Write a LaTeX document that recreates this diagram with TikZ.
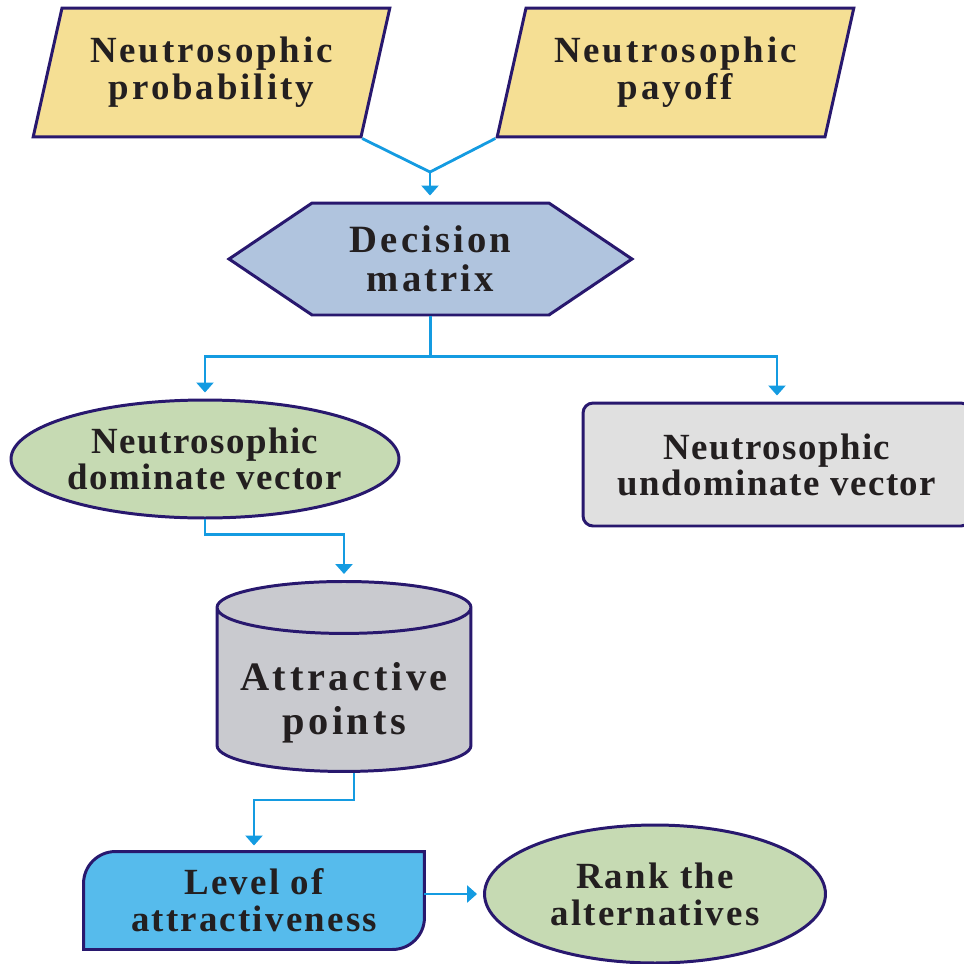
\documentclass[tikz,border=0pt]{standalone}
\usepackage{fontspec}
\setmainfont{Liberation Serif}
\usepackage{xcolor}
\usetikzlibrary{shapes,arrows.meta,backgrounds}
\definecolor{inputcolor}{RGB}{245,223,148}
\definecolor{matrixcolor}{RGB}{176,196,222}
\definecolor{vectorcolor}{RGB}{198,218,179}
\definecolor{undomcolor}{RGB}{224,224,224}
\definecolor{pointtop}{RGB}{226,227,231}
\definecolor{pointbody}{RGB}{201,202,207}
\definecolor{levelcolor}{RGB}{86,187,236}
\definecolor{edgecolor}{RGB}{40,24,110}
\definecolor{linkcolor}{RGB}{20,155,225}
\definecolor{textcolor}{RGB}{35,31,32}
% bold block text: size, baselineskip, letter spacing
\newcommand{\blocktext}[3]{\fontsize{#1}{#2}\selectfont\bfseries\addfontfeatures{LetterSpace=#3}}

\begin{document}
\begin{tikzpicture}[
	x=0.02cm,
	y=-0.02cm,
	>={Triangle[width=0.34cm,length=0.2cm]},
	block/.style={
		draw=edgecolor,
		line width=1.7pt,
		fill=#1,
		align=center,
		inner sep=0pt,
		text=textcolor,
		font=\blocktext{21}{20.5}{4}
	},
	block/.default=white,
	line/.style={
		draw=linkcolor,
		line width=1.6pt
	},
	flow/.style={
		line,
		->,
		shorten >=0.12cm
	}
	]
	\useasboundingbox (0,0) rectangle (964,964);
	
	% Input Blocks
	\node[block=inputcolor, trapezium, trapezium left angle=71.6, trapezium right angle=108.4,
	trapezium stretches=true, minimum width=7.14cm, minimum height=2.58cm, font=\blocktext{21}{21}{8}] (prob) at (211.5,72.5) {Neutrosophic\\probability};
	\node[block=inputcolor, trapezium, trapezium left angle=71.6, trapezium right angle=108.4,
	trapezium stretches=true, minimum width=7.14cm, minimum height=2.58cm, font=\blocktext{21}{21}{8}] (payoff) at (675.5,72.5) {Neutrosophic\\payoff};
	
	% Decision Matrix Block
	\node[block=matrixcolor, signal, signal to=west and east, signal pointer angle=68,
	minimum width=8.06cm, minimum height=2.24cm, font=\blocktext{22}{22}{8}] (decision) at (430.5,259) {Decision\\matrix};
	
	% Vector Blocks
	\node[block=vectorcolor, ellipse, minimum width=7.72cm, minimum height=2.36cm] (dominate) at (205,459) {Neutrosophic\\dominate vector};
	\node[block=undomcolor, rectangle, rounded corners=0.2cm, minimum width=7.76cm, minimum height=2.46cm] (undominate) at (777,464.5) {Neutrosophic\\undominate vector};
	
	% Attractive Points Block
	\node[block=pointbody, cylinder, shape border rotate=90, aspect=0.25, cylinder uses custom fill,
	cylinder end fill=pointtop, cylinder body fill=pointbody, minimum height=3.8cm, minimum width=5.08cm,
	anchor=north, font=\blocktext{23}{25}{9}] (points) at (344,580) {\rule{0pt}{1.05cm}Attractive\\points};
	
	% Level and Rank Blocks
	\node[block, draw=none, fill=none, minimum width=6.76cm, minimum height=1.9cm, font=\blocktext{21}{21}{6}] (level) at (254,900.5) {Level of\\attractiveness};
	\begin{scope}[on background layer]
		\filldraw[draw=edgecolor, fill=levelcolor, line width=1.7pt] (level.south west) -- ([yshift=-0.64cm]level.north west)
		arc[start angle=180, end angle=90, radius=0.64cm] -- (level.north east)
		-- ([yshift=0.64cm]level.south east) arc[start angle=0, end angle=-90, radius=0.64cm] -- cycle;
	\end{scope}
	\node[block=vectorcolor, ellipse, minimum width=6.82cm, minimum height=2.76cm, font=\blocktext{21}{21}{6}] (rank) at (655,894) {Rank the\\alternatives};
	
	% Connection Arrows
	\coordinate (merge) at (430,172);
	\path[line] (prob.bottom right corner) -- (merge);
	\path[line] (payoff.bottom left corner) -- (merge);
	\path[flow] (merge) -- (merge |- decision.north);
	\path[flow] (decision.south) -- ++(0,40) -| (dominate.north);
	\path[flow] (decision.south) -- ++(0,40) -| (undominate.north);
	\path[flow] (dominate.south) -- ++(0,15) -| (points.north);
	\path[flow] ([xshift=0.2cm]points.south) -- ++(0,27) -| (level.north);
	\path[flow] (level.east |- rank.west) -- (rank.west);
	
\end{tikzpicture}
\end{document}
